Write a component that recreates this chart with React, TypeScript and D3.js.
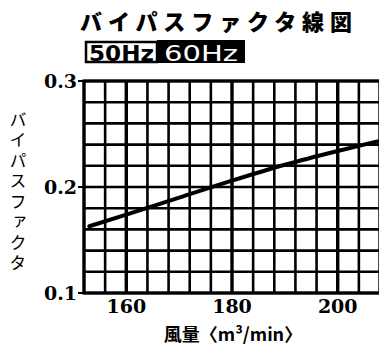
import React from "react";
import * as d3 from "d3";

const title = "バイパスファクタ線図";
const legendLabels = ["50Hz", "60Hz"];
const yTitle = "バイパスファクタ";
const xTitle = "風量〈m³/min〉";
const xTickValues = [160, 180, 200];
const yTickValues = [0.1, 0.2, 0.3];
const airflow = [153, 160, 170, 180, 190, 200, 207.5];
const bypassFactor = [0.163, 0.174, 0.19, 0.206, 0.221, 0.234, 0.243];

const W = 379;
const H = 345;
const left = 84;
const right = 380;
const top = 81;
const bottom = 293;

export default function App() {
  const x = d3.scaleLinear().domain([152, 208]).range([left, right]);
  const y = d3.scaleLinear().domain([0.1, 0.3]).range([bottom, top]);
  const vGrid = d3.range(152, 208.01, 4);
  const hGrid = d3.range(0, 11).map((i) => 0.1 + i * 0.02);
  const pts = airflow.map((a, i) => [a, bypassFactor[i]] as [number, number]);
  const line = d3
    .line<[number, number]>()
    .x((d) => x(d[0]))
    .y((d) => y(d[1]))
    .curve(d3.curveMonotoneX);
  const serif = "'DejaVu Serif', 'Liberation Serif', serif";
  const jp = "'Noto Sans CJK JP', sans-serif";
  const sans = "'DejaVu Sans', sans-serif";
  return (
    <svg
      width={W}
      height={H}
      style={{ position: "absolute", left: 0, top: 0, background: "#fff" }}
    >
      <text
        x={80}
        y={30}
        textLength={272}
        lengthAdjust="spacing"
        fontFamily={jp}
        fontWeight={900}
        fontSize={22}
        fill="#000"
      >
        {title}
      </text>
      <rect x={86} y={42} width={71} height={20} fill="#fff" stroke="#000" strokeWidth={2.5} />
      <text x={89} y={61} textLength={65} lengthAdjust="spacingAndGlyphs" fontFamily={sans} fontWeight="bold" fontSize={21} fill="#000">
        {legendLabels[0]}
      </text>
      <rect x={157} y={40} width={88} height={23} fill="#000" />
      <text x={164} y={61} textLength={74} lengthAdjust="spacingAndGlyphs" fontFamily={sans} fontWeight="normal" fontSize={21} fill="#fff">
        {legendLabels[1]}
      </text>
      {hGrid.map((v, i) => (
        <line key={"h" + i} x1={left} x2={right} y1={y(v)} y2={y(v)} stroke="#000" strokeWidth={2.6} />
      ))}
      {vGrid.map((v, i) => (
        <line
          key={"v" + i}
          x1={x(v)}
          x2={x(v)}
          y1={top}
          y2={bottom}
          stroke="#000"
          strokeWidth={xTickValues.includes(v) ? 3.4 : 2.6}
        />
      ))}
      <rect x={left} y={top} width={right - left} height={bottom - top} fill="none" stroke="#000" strokeWidth={3.2} />
      {yTickValues.map((v) => (
        <g key={"yt" + v}>
          <line x1={left - 6} x2={left} y1={y(v)} y2={y(v)} stroke="#000" strokeWidth={2} />
          <text x={left - 7} y={y(v) + 7} textAnchor="end" fontFamily={serif} fontWeight="bold" fontSize={19} fill="#000">
            {v.toFixed(1)}
          </text>
        </g>
      ))}
      {xTickValues.map((v) => (
        <text key={"xt" + v} x={x(v)} y={313} textAnchor="middle" fontFamily={serif} fontWeight="bold" fontSize={19} fill="#000">
          {v}
        </text>
      ))}
      <path d={line(pts) || ""} fill="none" stroke="#000" strokeWidth={4} strokeLinecap="round" />
      <text x={233} y={341} textAnchor="middle" fontFamily={jp} fontWeight="bold" fontSize={18} fill="#000">
        {xTitle}
      </text>
      <text
        x={18}
        y={111}
        fontFamily={jp}
        fontSize={17}
        letterSpacing={3.5}
        fill="#000"
        style={{ writingMode: "vertical-rl" }}
      >
        {yTitle}
      </text>
    </svg>
  );
}
